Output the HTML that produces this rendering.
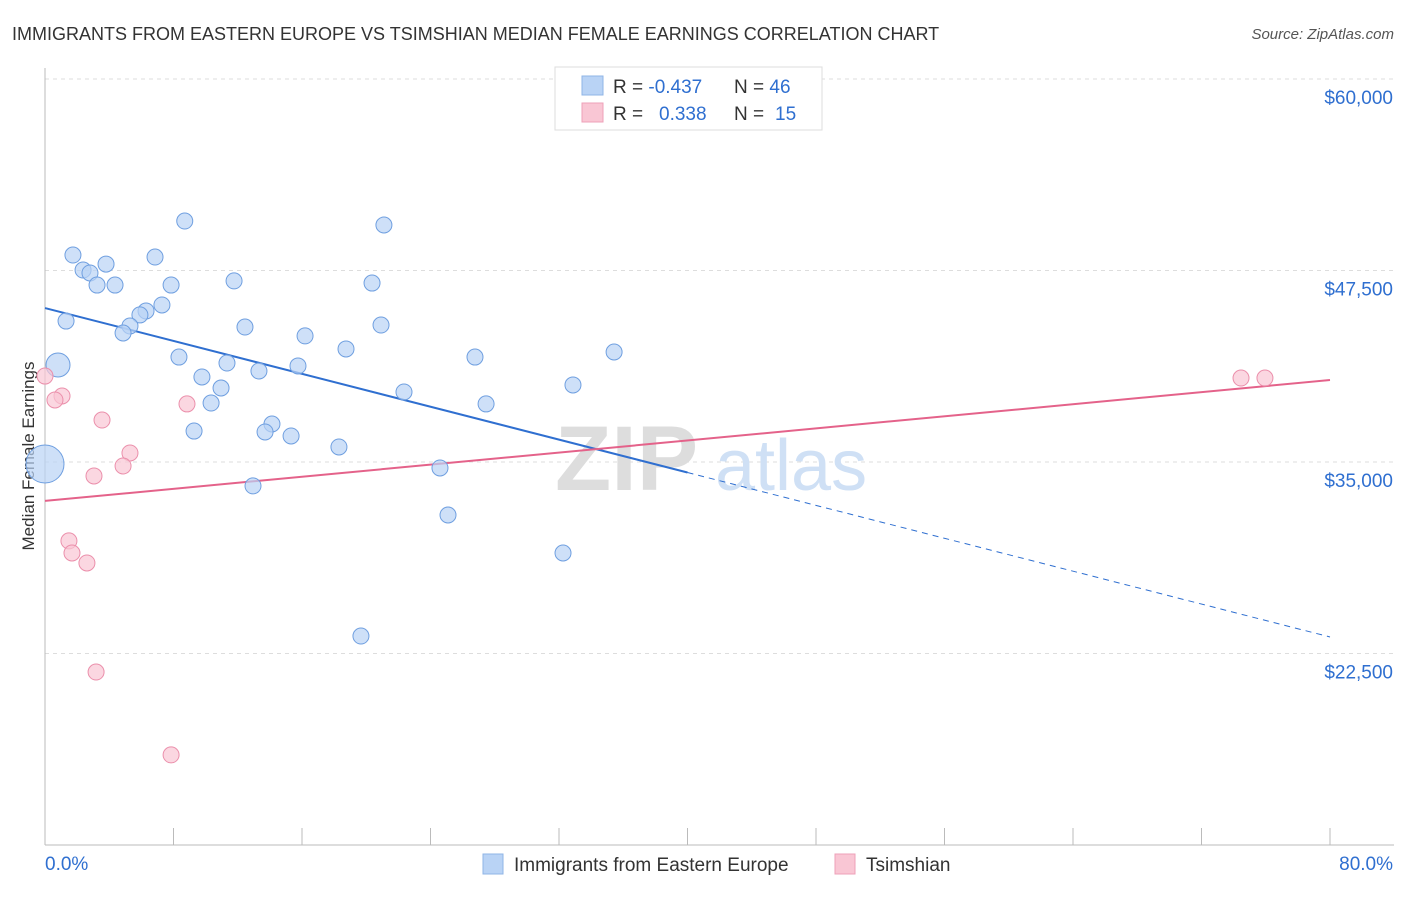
<!DOCTYPE html>
<html><head><meta charset="utf-8"><style>
body{margin:0;background:#fff;font-family:"Liberation Sans",sans-serif;}
svg text{font-family:"Liberation Sans",sans-serif;}
</style></head><body>
<svg id="chart" width="1406" height="892" xmlns="http://www.w3.org/2000/svg">
<text x="12" y="40" font-size="18" fill="#333">IMMIGRANTS FROM EASTERN EUROPE VS TSIMSHIAN MEDIAN FEMALE EARNINGS CORRELATION CHART</text>
<text x="1394" y="39" font-size="15" fill="#555" text-anchor="end" font-style="italic">Source: ZipAtlas.com</text>
<text transform="translate(34,456) rotate(-90)" font-size="17" fill="#333" text-anchor="middle">Median Female Earnings</text>
<g id="grid"></g>
<text x="555" y="490" font-size="92" fill="#ddd" font-family="Liberation Serif" font-weight="bold">ZIP</text>
<text x="715" y="490" font-size="72" fill="#cfe0f5">atlas</text>
<g id="axes"></g>
<g id="lines"></g>
<g id="pts"></g>
<g>
<rect x="555" y="67" width="267" height="63" fill="#fff" stroke="#ddd"/>
<rect x="582" y="76" width="21" height="19" fill="#b9d3f5" stroke="#8fb4e6"/>
<rect x="582" y="103" width="21" height="19" fill="#f9c6d4" stroke="#eea0b8"/>
<text x="613" y="93" font-size="19" fill="#333">R = <tspan fill="#2f6fd0">-0.437</tspan></text>
<text x="734" y="93" font-size="19" fill="#333">N = <tspan fill="#2f6fd0">46</tspan></text>
<text x="613" y="120" font-size="19" fill="#333">R = <tspan fill="#2f6fd0" x="659">0.338</tspan></text>
<text x="734" y="120" font-size="19" fill="#333">N = <tspan fill="#2f6fd0" x="775">15</tspan></text>
</g>
<g>
<rect x="483" y="854" width="20" height="20" fill="#b9d3f5" stroke="#8fb4e6"/>
<text x="514" y="871" font-size="19" fill="#333">Immigrants from Eastern Europe</text>
<rect x="835" y="854" width="20" height="20" fill="#f9c6d4" stroke="#eea0b8"/>
<text x="866" y="871" font-size="19" fill="#333">Tsimshian</text>
</g>
</svg>
<script>
const yTicks=[60000,47500,35000,22500];
const yTickLabels=["$60,000","$47,500","$35,000","$22,500"];
const xTickLabels=["0.0%","80.0%"];
const blueX=[8.7,21.1,1.74,6.85,3.8,2.37,2.8,3.24,4.36,7.85,11.77,20.36,7.28,6.29,5.91,1.31,5.29,4.86,12.45,20.92,16.19,18.74,8.34,26.77,35.43,0.81,11.33,15.75,13.32,9.77,10.96,32.87,22.35,10.34,27.46,9.28,14.13,13.7,15.32,18.3,24.59,0,12.95,25.09,32.25,19.67];
const blueY=[50730,50470,48510,48380,47920,47530,47340,46550,46550,46550,46820,46680,45250,44860,44600,44200,43880,43420,43810,43940,43230,42380,41850,41850,42180,41330,41460,41270,40940,40550,39830,40030,39570,38850,38790,37020,37480,36960,36700,35980,34610,34870,33440,31540,29060,23640];
const blueR=[8,8,8,8,8,8,8,8,8,8,8,8,8,8,8,8,8,8,8,8,8,8,8,8,8,12,8,8,8,8,8,8,8,8,8,8,8,8,8,8,8,19,8,8,8,8];
const pinkX=[0,1.06,0.62,8.84,3.55,5.29,4.86,3.05,1.49,1.68,2.61,3.18,7.85,74.46,75.95];
const pinkY=[40610,39310,39050,38790,37740,35590,34740,34090,29850,29060,28410,21290,15880,40480,40480];
const blueTrend=[45050,23580];
const pinkTrend=[32460,40350];
const NS="http://www.w3.org/2000/svg";
const sx=v=>45+v/80*1285;
const sy=v=>79+(60000-v)*191.5/12500;
function mk(tag,attrs,parent){const e=document.createElementNS(NS,tag);for(const k in attrs)e.setAttribute(k,attrs[k]);parent.appendChild(e);return e;}
const grid=document.getElementById('grid'),axes=document.getElementById('axes'),lines=document.getElementById('lines'),pts=document.getElementById('pts');
yTicks.forEach((t,i)=>{
 const l=mk('line',{x1:45,x2:1394,y1:sy(t),y2:sy(t),stroke:'#ddd','stroke-dasharray':'4,4'},grid);
 
 
 const tx=mk('text',{x:1393,y:sy(t)+25,'font-size':19,fill:'#2f6fd0','text-anchor':'end'},axes);
 tx.textContent=yTickLabels[i];
 
 
});
mk('line',{x1:45,x2:45,y1:68,y2:845,stroke:'#bbb'},axes);
mk('line',{x1:45,x2:1394,y1:845,y2:845,stroke:'#bbb'},axes);
for(let i=0;i<=10;i++){const x=sx(i*8);const tk=mk('line',{x1:x,x2:x,y1:828,y2:845,stroke:'#bbb'},axes);
 
 }
[[0,'start',45],[80,'end',1393]].forEach((d,i)=>{const t=mk('text',{x:d[2],y:870,'font-size':19,fill:'#2f6fd0','text-anchor':d[1]},axes);t.textContent=xTickLabels[i];
 
 });
function yAt(tr,x){return tr[0]+(tr[1]-tr[0])*x/80;}
let bl=mk('line',{x1:sx(0),y1:sy(yAt(blueTrend,0)),x2:sx(40),y2:sy(yAt(blueTrend,40)),stroke:'#2f6fd0','stroke-width':2},lines);


let bd=mk('line',{x1:sx(40),y1:sy(yAt(blueTrend,40)),x2:sx(80),y2:sy(yAt(blueTrend,80)),stroke:'#2f6fd0','stroke-width':1,'stroke-dasharray':'6,5'},lines);


let pl=mk('line',{x1:sx(0),y1:sy(pinkTrend[0]),x2:sx(80),y2:sy(pinkTrend[1]),stroke:'#e4628a','stroke-width':2},lines);


blueX.forEach((x,i)=>{const c=mk('circle',{cx:sx(x),cy:sy(blueY[i]),r:blueR[i],fill:'#b9d3f5','fill-opacity':0.7,stroke:'#6f9fe0','stroke-width':1},pts);
 
 });
pinkX.forEach((x,i)=>{const c=mk('circle',{cx:sx(x),cy:sy(pinkY[i]),r:8,fill:'#f9c6d4','fill-opacity':0.7,stroke:'#eb8fab','stroke-width':1},pts);
 
 });
</script>
</body></html>
